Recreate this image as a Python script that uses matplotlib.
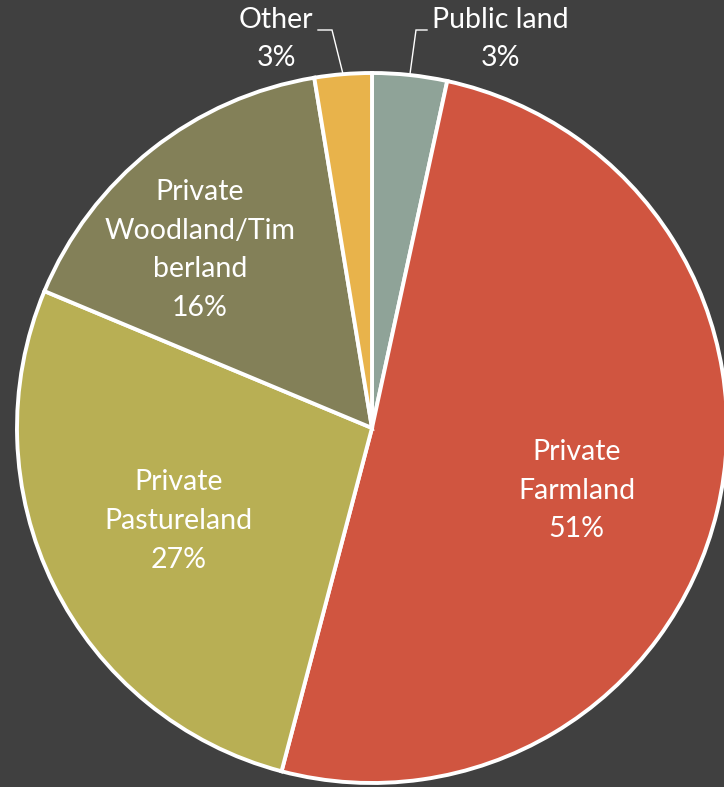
import numpy as np
import matplotlib.pyplot as plt

plt.rcParams['font.family'] = ['Lato', 'DejaVu Sans']

labels = ['Public land', 'Private\nFarmland', 'Private\nPastureland',
          'Private\nWoodland/Tim\nberland', 'Other']
values = [3.4, 50.7, 27.2, 16.1, 2.6]
colors = ['#8fa398', '#d05540', '#b8af54', '#838058', '#e8b34b']

bg = '#404040'
fig = plt.figure(figsize=(7.24, 7.87), dpi=100, facecolor=bg)
ax = fig.add_axes([0, 0, 1, 1])
ax.set_facecolor(bg)

cx, cy, r = 372, 359, 355
wedges, _ = ax.pie(values, colors=colors, startangle=90, counterclock=False,
                   center=(cx, cy), radius=r, frame=True,
                   wedgeprops=dict(edgecolor='white', linewidth=2.8))
ax.set_xlim(0, 724)
ax.set_ylim(0, 787)
ax.axis('off')

total = sum(values)
fs = 20.5
# inside label offsets from centre, in units of radius
inside = {1: (0.577, -0.177), 2: (-0.546, -0.262), 3: (-0.485, 0.501)}
for i, (dx, dy) in inside.items():
    txt = '%s\n%d%%' % (labels[i], round(values[i] / total * 100))
    ax.text(cx + dx * r, cy + dy * r, txt, color='white',
            fontsize=fs, ha='center', va='center', linespacing=1.6)

# outside labels with leader lines
outside = {0: (500, 748, 416, 757, 427), 4: (276, 748, 332, 757, 318)}
for i, (tx, ty, lx, ly, ex) in outside.items():
    w = wedges[i]
    mid = np.deg2rad((w.theta1 + w.theta2) / 2)
    sx, sy = cx + r * np.cos(mid), cy + r * np.sin(mid)
    ax.plot([sx, lx, ex], [sy, ly, ly], color='white', linewidth=1, solid_joinstyle='miter')
    txt = '%s\n%d%%' % (labels[i], round(values[i] / total * 100))
    ax.text(tx, ty, txt, color='white', fontsize=fs, ha='center', va='center',
            linespacing=1.6)

fig.savefig('out.png', dpi=100, facecolor=bg)
